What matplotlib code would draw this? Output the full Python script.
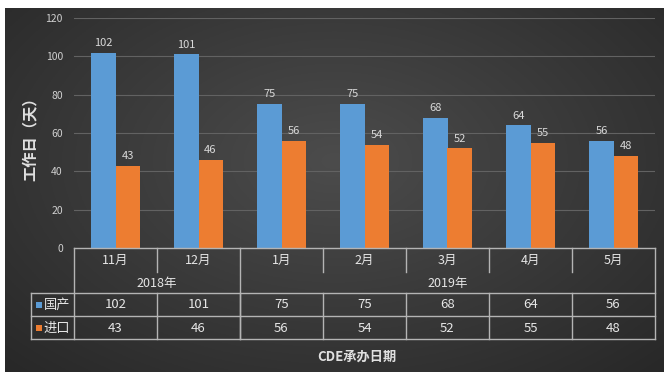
import numpy as np
import matplotlib
matplotlib.use("Agg")
import matplotlib.pyplot as plt
from matplotlib.patches import Rectangle

plt.rcParams['font.family'] = ['Noto Sans CJK SC', 'DejaVu Sans']

months = ["11月", "12月", "1月", "2月", "3月", "4月", "5月"]
years = ["2018年", "2019年"]
year_spans = [(0, 1), (2, 6)]
domestic = [102, 101, 75, 75, 68, 64, 56]
imported = [43, 46, 56, 54, 52, 55, 48]
series_names = ["国产", "进口"]
yticks = [0, 20, 40, 60, 80, 100, 120]

W, H = 667, 378
fig = plt.figure(figsize=(W / 100, H / 100), dpi=100)
fig.patch.set_facecolor("white")

# background gradient panel
bg = fig.add_axes([5 / W, 1 - 372 / H, (664 - 5) / W, (372 - 8) / H])
bg.set_axis_off()
gy, gx = np.mgrid[0:1:200j, 0:1:300j]
r = np.sqrt(((gx - 0.5) / 0.75) ** 2 + ((gy - 0.42) / 0.85) ** 2)
r = np.clip(r, 0, 1)
light = np.array([0x4c, 0x4c, 0x4c]) / 255
dark = np.array([0x26, 0x26, 0x26]) / 255
img = light[None, None, :] * (1 - r[..., None]) + dark[None, None, :] * r[..., None]
bg.imshow(img, aspect="auto", extent=[0, 1, 0, 1], origin="upper")

# main axes
ax = fig.add_axes([74 / W, 1 - 248 / H, (655 - 74) / W, (248 - 18) / H])
ax.set_facecolor("none")
x = np.arange(len(months))
bw = 0.29
blue = "#5b9bd5"
orange = "#ed7d31"
ax.bar(x - bw / 2, domestic, bw, color=blue, zorder=3)
ax.bar(x + bw / 2, imported, bw, color=orange, zorder=3)
lblc = "#d9d9d9"
for xi, v in zip(x, domestic):
    ax.text(xi - bw / 2, v + 2.5, str(v), ha="center", va="bottom", fontsize=8, color=lblc)
for xi, v in zip(x, imported):
    ax.text(xi + bw / 2, v + 2.5, str(v), ha="center", va="bottom", fontsize=8, color=lblc)

ax.set_xlim(-0.5, len(months) - 0.5)
ax.set_ylim(0, 120)
ax.set_yticks(yticks)
ax.set_yticklabels([str(t) for t in yticks], fontsize=7.5, color="#d0d0d0")
ax.tick_params(axis="y", length=0, pad=8)
ax.set_xticks([])
for s in ax.spines.values():
    s.set_visible(False)
ax.grid(axis="y", color="#626262", linewidth=0.8, zorder=0)

# table
tr = ax.get_xaxis_transform()
lc = "#b4b4b4"
lw = 1.0
ax_h = 230.0
def ay(py):
    return -(py - 248) / ax_h

n = len(months)
xl = -0.5
xr = n - 0.5
xleg = -0.5 - 43 / 83
rows = [248, 272, 293, 316, 339]
kw = dict(transform=tr, color=lc, lw=lw, clip_on=False, zorder=5)
ax.plot([xl, xr], [ay(rows[0])] * 2, **kw)
for py in rows[2:]:
    ax.plot([xleg, xr], [ay(py)] * 2, **kw)
ax.plot([xl, xl], [ay(rows[0]), ay(rows[4])], **kw)
ax.plot([xr, xr], [ay(rows[0]), ay(rows[4])], **kw)
ax.plot([xleg, xleg], [ay(rows[2]), ay(rows[4])], **kw)
for i in range(1, n):
    if i == 2:
        continue
    ax.plot([i - 0.5, i - 0.5], [ay(rows[0]), ay(rows[1])], **kw)
ax.plot([1.5, 1.5], [ay(rows[0]), ay(rows[4])], **kw)
for i in range(1, n):
    ax.plot([i - 0.5, i - 0.5], [ay(rows[2]), ay(rows[4])], **kw)

tc = "#e6e6e6"
for xi, m in zip(x, months):
    ax.text(xi, ay(260), m, transform=tr, ha="center", va="center", fontsize=9, color=tc, clip_on=False)
for (a, b), yl in zip(year_spans, years):
    ax.text((a + b) / 2, ay(283), yl, transform=tr, ha="center", va="center", fontsize=9, color=tc, clip_on=False)
for xi, v in zip(x, domestic):
    ax.text(xi, ay(305), str(v), transform=tr, ha="center", va="center", fontsize=9.5, color=tc, clip_on=False)
for xi, v in zip(x, imported):
    ax.text(xi, ay(328), str(v), transform=tr, ha="center", va="center", fontsize=9.5, color=tc, clip_on=False)

sq = 6 / 83
for py, col, name in [(305, blue, series_names[0]), (328, orange, series_names[1])]:
    ax.add_patch(Rectangle((xleg + 0.06, ay(py) - 0.012), sq, 6 / ax_h, transform=tr,
                           facecolor=col, edgecolor="none", clip_on=False, zorder=6))
    ax.text(xleg + 0.15, ay(py), name, transform=tr, ha="left", va="center", fontsize=9.5,
            color=tc, clip_on=False)

fig.text(30 / W, 1 - 135 / H, "工作日（天）", rotation=90, ha="center", va="center",
         fontsize=11, fontweight="bold", color="#e0e0e0")
fig.text(357 / W, 1 - 357 / H, "CDE承办日期", ha="center", va="center",
         fontsize=9.5, fontweight="bold", color="#e0e0e0")

fig.savefig("out.png", dpi=100, facecolor=fig.get_facecolor())
